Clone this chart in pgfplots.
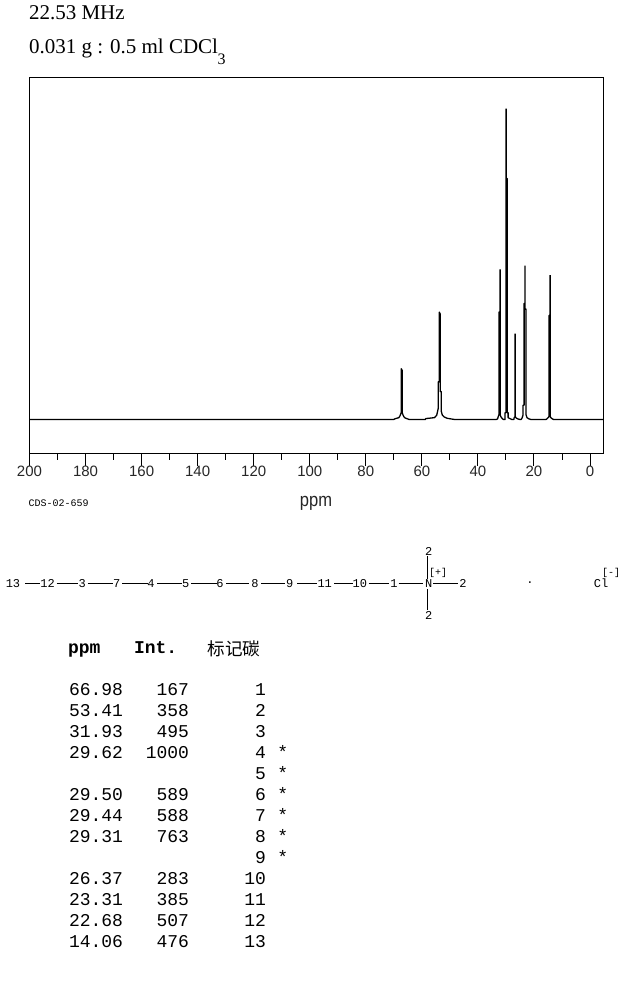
\documentclass[border=0pt]{standalone}
\usepackage{fontspec}
\usepackage{pgfplots}
\pgfplotsset{compat=1.18}
\setmainfont{Liberation Serif}
\newfontfamily\sansf{Liberation Sans}
\newfontfamily\monof{Liberation Mono}
\newfontfamily\cjk{Noto Sans CJK SC}
\newcommand{\fs}[1]{\fontsize{#1bp}{#1bp}\selectfont}
\begin{document}
\begin{tikzpicture}[x=1bp,y=-1bp]
\path[use as bounding box] (0,0) rectangle (624,992);
\begin{axis}[
  at={(29.5bp,-77.5bp)}, anchor=north west,
  scale only axis, width=574bp, height=376bp,
  x dir=reverse, xmin=-4.8, xmax=200,
  ymin=-109.3, ymax=1099.7,
  axis line style={line width=1bp,black},
  ytick=\empty,
  xtick={0,20,...,200},
  minor xtick={10,30,...,190},
  xtick pos=bottom, tick align=outside,
  major tick length=12bp, minor tick length=6bp,
  every tick/.style={black,line width=1bp},
  /pgf/number format/assume math mode=true,
  xticklabel style={font=\sansf\fs{15}\color{black!85}, anchor=base, inner sep=0pt, yshift=-11bp},
  clip=true,
]
\addplot[black,line width=1.3bp,line join=bevel,no markers] coordinates {
(200,0)(70.1,0)(69.4,3)(68.2,6)(67.75,13)(67.38,22)(67.38,164)(67.02,158)(67.02,22)(66.66,13)(66.2,6)(65.4,3)(64.5,0)
(58.8,0)(58.6,3)(55.5,6)(54.7,14)(54.19,35)(54.19,121)(53.83,121)(53.83,346)(53.48,340)(53.48,90)(53.12,90)(53.12,28)(52.7,14)(52,8)(51,4)(48.3,0)
(33.5,0)(33,2)(32.8,8)(32.44,18)(32.44,346)(32.09,346)(32.09,483)(32.09,15)(31.75,8)(31.3,3)(30.9,0)(30.6,0)
(30.31,0)(30.31,22)(29.95,22)(29.95,1000)(29.95,775)(29.59,775)(29.59,22)(29.23,22)(29.23,6)(28.6,3)(27.9,0)
(27.2,0)(27.1,5)(26.74,10)(26.74,276)(26.74,10)(26.38,5)(25.8,2)(24.9,0)
(24.6,0)(24.2,6)(23.89,15)(23.89,46)(23.53,46)(23.53,373)(23.18,373)(23.18,495)(23.18,355)(22.83,355)(22.83,15)(22.5,6)(21.8,2)(21,0)
(15.7,0)(15.3,3)(14.95,6)(14.6,10)(14.6,335)(14.24,335)(14.24,464)(14.24,10)(13.9,5)(13.4,2)(13,0)(-5,0)
};
\end{axis}
% header text
\tikzset{t/.style={inner sep=0pt,outer sep=0pt}}
\node[t,anchor=base west] at (29,19) {\fs{21}22.53 MHz};
\node[t,anchor=base west] at (29,53) {\fs{21}0.031 g : 0.5 ml CDCl};
\node[t,anchor=base west] at (217.5,64.5) {\fs{16}3};
% axis notes
\node[t,anchor=base west] at (28.5,506) {\monof\fs{10}CDS-02-659};
\node[t,anchor=base] at (316,506) {\sansf\fs{19}\color{black!85}\scalebox{0.87}[1]{ppm}};
% structure
\foreach \x/\l in {13/13,47.7/12,82.3/3,116.7/7,151/4,185.7/5,220/6,255/8,289.6/9,324.7/11,359.8/10,394/1,428.6/N,463/2}
  \node[t,anchor=base] at (\x,587.5) {\monof\fs{12}\l};
\node[t,anchor=base] at (428.6,555) {\monof\fs{12}2};
\node[t,anchor=base] at (428.6,619.5) {\monof\fs{12}2};
\node[t,anchor=center] at (438,573) {\monof\fs{10}[+]};
\node[t,anchor=center] at (530,583) {\monof\fs{12}.};
\node[t,anchor=base] at (601,587.5) {\monof\fs{12}Cl};
\node[t,anchor=center] at (611,573) {\monof\fs{10}[-]};
\foreach \a/\b in {25/39.5,56.5/77.5,87.5/112.5,122/147.5,157/181.5,191/216.5,226/249,261/285,297/316.5,334/352.5,368.5/388.5,398.5/423,433/458}
  \draw[line width=1bp] (\a,583.5) -- (\b,583.5);
\draw[line width=1bp] (427.5,556) -- (427.5,579) (427.5,589) -- (427.5,610);
% table
\node[t,anchor=base west] at (68,653) {\monof\bfseries\fs{18}ppm};
\node[t,anchor=base west] at (134,653) {\monof\bfseries\fs{18}Int.};
\node[t,anchor=base west] at (207.5,655) {\cjk\fs{17.6}标记碳};
\foreach \r/\p/\i/\n/\s in {0/66.98/167/1/,1/53.41/358/2/,2/31.93/495/3/,3/29.62/1000/4/*,4///5/*,5/29.50/589/6/*,6/29.44/588/7/*,7/29.31/763/8/*,8///9/*,9/26.37/283/10/,10/23.31/385/11/,11/22.68/507/12/,12/14.06/476/13/}{
  \pgfmathsetmacro{\yy}{695.5+21*\r}
  \node[t,anchor=base west] at (69,\yy) {\monof\fs{18}\p};
  \node[t,anchor=base east] at (189,\yy) {\monof\fs{18}\i};
  \node[t,anchor=base east] at (266,\yy) {\monof\fs{18}\n};
  \node[t,anchor=base] at (282.7,\yy) {\monof\fs{18}\s};
}
\end{tikzpicture}
\end{document}
